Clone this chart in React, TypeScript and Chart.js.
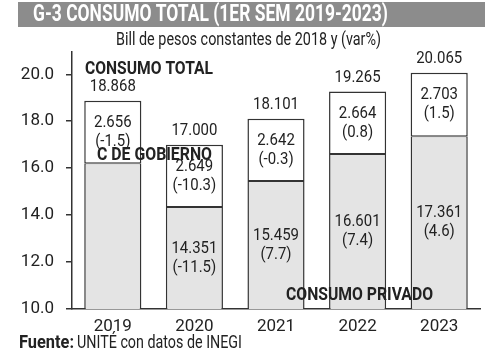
import React, { useEffect, useRef } from "react";
import { Chart, registerables } from "chart.js";

Chart.register(...registerables);

const years = ["2019", "2020", "2021", "2022", "2023"];
const privado = [16.212, 14.351, 15.459, 16.601, 17.361];
const privadoVar: (number | null)[] = [null, -11.5, 7.7, 7.4, 4.6];
const gobierno = [2.656, 2.649, 2.642, 2.664, 2.703];
const gobiernoVar = [-1.5, -10.3, -0.3, 0.8, 1.5];
const total = [18.868, 17.0, 18.101, 19.265, 20.065];
const yTicks = [10, 12, 14, 16, 18, 20];

const FAM = "Roboto, 'Liberation Sans', sans-serif";
const TEXT = "#222222";
const BORDER = "#333333";

function fitText(ctx: any, s: string, x: number, y: number, font: string, align: string, width: number) {
  ctx.save();
  ctx.font = font;
  ctx.textAlign = align;
  ctx.textBaseline = "middle";
  const m = ctx.measureText(s).width;
  const sx = width / m;
  ctx.translate(x, y);
  ctx.scale(sx, 1);
  ctx.fillText(s, 0, 0);
  ctx.restore();
}

function sText(ctx: any, s: string, x: number, y: number, font: string, sx: number) {
  ctx.save();
  ctx.font = font;
  ctx.textAlign = "center";
  ctx.textBaseline = "middle";
  ctx.translate(x, y);
  ctx.scale(sx, 1);
  ctx.fillText(s, 0, 0);
  ctx.restore();
}

const labelsPlugin = {
  id: "customLabels",
  beforeDraw(chart: any) {
    const ctx = chart.ctx;
    ctx.save();
    ctx.fillStyle = "#8c8c8c";
    ctx.fillRect(18, 2, 467, 25);
    ctx.fillStyle = "#ffffff";
    fitText(ctx, "G-3 CONSUMO TOTAL (1ER SEM 2019-2023)", 33, 15.5, `bold 23px ${FAM}`, "left", 355);
    ctx.fillStyle = TEXT;
    fitText(ctx, "Bill de pesos constantes de 2018 y (var%)", 116, 40, `18px ${FAM}`, "left", 265);
    fitText(ctx, "Fuente:", 19, 343, `bold 18px ${FAM}`, "left", 55);
    fitText(ctx, "UNITÉ con datos de INEGI", 77, 343, `18px ${FAM}`, "left", 165);
    ctx.restore();
  },
  afterDatasetsDraw(chart: any) {
    const ctx = chart.ctx;
    const metaP = chart.getDatasetMeta(0);
    const metaG = chart.getDatasetMeta(1);
    const bottom = chart.chartArea.bottom;
    const f = `17px ${FAM}`;
    const sx = 0.88;
    ctx.save();
    ctx.fillStyle = TEXT;
    for (let i = 0; i < years.length; i++) {
      const p = metaP.data[i].getProps(["x", "y", "base"], true);
      const g = metaG.data[i].getProps(["x", "y", "base"], true);
      const pv = privadoVar[i];
      if (pv !== null) {
        const c = (p.y + Math.min(p.base, bottom)) / 2;
        sText(ctx, privado[i].toFixed(3), p.x, c - 9.5, f, sx);
        sText(ctx, `(${pv.toFixed(1)})`, p.x, c + 9.5, f, sx);
      }
      const cg = (g.y + g.base) / 2;
      sText(ctx, gobierno[i].toFixed(3), g.x, cg - 9.5, f, sx);
      sText(ctx, `(${gobiernoVar[i].toFixed(1)})`, g.x, cg + 9.5, f, sx);
      sText(ctx, total[i].toFixed(3), g.x, g.y - 14, f, sx);
    }
    fitText(ctx, "CONSUMO TOTAL", 85, 69, `bold 18px ${FAM}`, "left", 128);
    fitText(ctx, "C DE GOBIERNO", 97, 155, `bold 18px ${FAM}`, "left", 115);
    fitText(ctx, "CONSUMO PRIVADO", 286, 295, `bold 18px ${FAM}`, "left", 147);
    ctx.restore();
  },
};

export default function App() {
  const ref = useRef<HTMLCanvasElement>(null);
  useEffect(() => {
    if (!ref.current) return;
    const chart = new Chart(ref.current, {
      type: "bar",
      data: {
        labels: years,
        datasets: [
          {
            label: "Consumo privado",
            data: privado,
            backgroundColor: "#e4e4e4",
            borderColor: BORDER,
            borderWidth: { top: 1, left: 1.5, right: 1.5, bottom: 0 },
            borderSkipped: false,
            barPercentage: 0.7,
            categoryPercentage: 1,
          },
          {
            label: "C de gobierno",
            data: gobierno,
            backgroundColor: "#ffffff",
            borderColor: BORDER,
            borderWidth: { top: 1.5, left: 1.5, right: 1.5, bottom: 1 },
            borderSkipped: false,
            barPercentage: 0.7,
            categoryPercentage: 1,
          },
        ],
      },
      options: {
        responsive: false,
        animation: false,
        layout: { padding: { left: 0, top: 52, right: 20, bottom: 19 } },
        plugins: { legend: { display: false }, tooltip: { enabled: false }, title: { display: false } },
        scales: {
          x: {
            stacked: true,
            grid: { display: false },
            border: { display: true, color: BORDER, width: 1.5 },
            ticks: { color: TEXT, font: { family: FAM, size: 17 }, padding: 0 },
            afterFit: (s: any) => {
              s.height = 30;
            },
          },
          y: {
            stacked: true,
            min: 10,
            max: 20.95,
            afterBuildTicks: (axis: any) => {
              axis.ticks = yTicks.map((v) => ({ value: v }));
            },
            afterFit: (s: any) => {
              s.width = 72;
            },
            grid: { drawOnChartArea: false, drawTicks: true, tickLength: 6, color: BORDER, lineWidth: 1.5 },
            border: { display: true, color: BORDER, width: 1.5 },
            ticks: {
              color: TEXT,
              font: { family: FAM, size: 17 },
              padding: 12,
              callback: (v: any) => Number(v).toFixed(1),
            },
          },
        },
      },
      plugins: [labelsPlugin],
    });
    return () => chart.destroy();
  }, []);
  return (
    <div style={{ position: "absolute", left: 0, top: 0, width: 500, height: 358, background: "#fff" }}>
      <canvas ref={ref} width={500} height={358} />
    </div>
  );
}
